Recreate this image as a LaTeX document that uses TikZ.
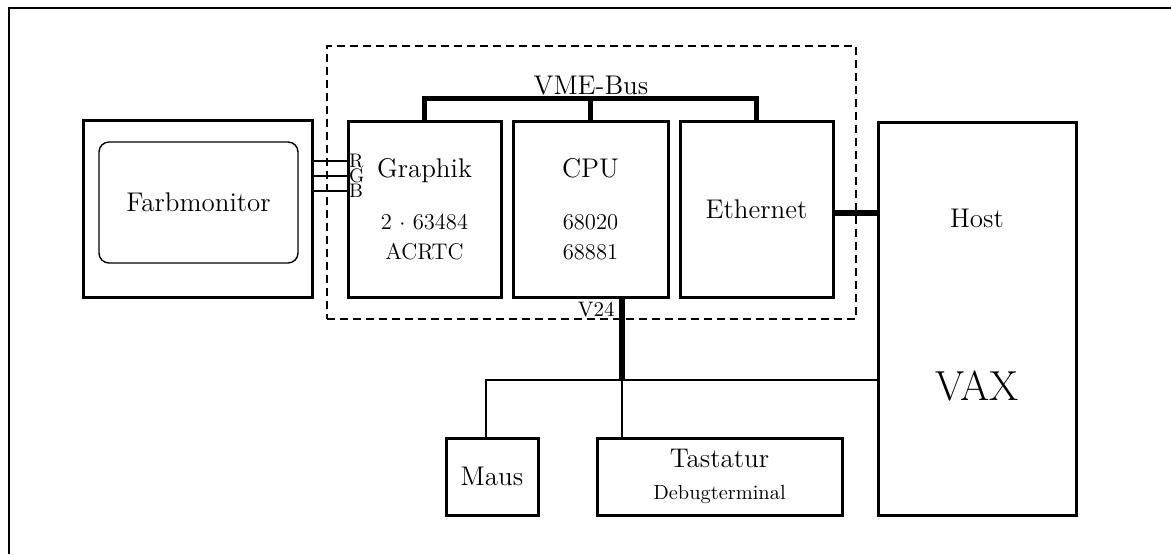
\documentclass[tikz,border=0pt]{standalone}
\usetikzlibrary{positioning}
\tikzset{
    hwbox/.style={draw, line width=1.5pt, align=center, inner sep=0pt, font=\fontsize{13.5}{15}\selectfont},
    screenbox/.style={draw, line width=0.7pt, rounded corners=5pt, align=center, font=\fontsize{13.5}{15}\selectfont},
    vmeframe/.style={draw, dashed, dash pattern=on 4pt off 2.5pt, line width=0.8pt},
    buslink/.style={line width=2.6pt},
    sigline/.style={line width=0.7pt},
    hwlabel/.style={inner sep=0.5pt, font=\fontsize{13.5}{15}\selectfont},
    rgblabel/.style={inner sep=0pt, font=\fontsize{9.8}{11}\selectfont},
    hwsmall/.style={inner sep=0.5pt, font=\fontsize{10.5}{12}\selectfont}
}
\newcommand{\subfont}{\fontsize{11.3}{11.5}\selectfont}

\begin{document}
\begin{tikzpicture}[x=0.5pt, y=-0.5pt]
    \useasboundingbox (0,0) rectangle (1171,554);
    \draw[line width=1pt] (9,554) -- (9,8) -- (1171,8);

    % Rechner im VME-Gehaeuse
    \node[vmeframe, minimum width=264.5pt, minimum height=136.5pt] (vme) at (591.5,182.5) {};
    \node[hwbox, minimum width=76.5pt, minimum height=88pt] (graphik) at (424.5,209)
        {Graphik\\[11pt]\subfont 2 $\cdot$ 63484\\\subfont ACRTC};
    \node[hwbox, minimum width=77.5pt, minimum height=88pt] (cpu) at (590.5,209)
        {CPU\\[11pt]\subfont 68020\\\subfont 68881};
    \node[hwbox, minimum width=76.5pt, minimum height=88pt] (ethernet) at (756.5,209) {Ethernet};
    \node[hwlabel] (vmelbl) at (591,86) {VME-Bus};

    % Peripherie
    \node[hwbox, minimum width=114.5pt, minimum height=88.5pt] (monitor) at (197.5,208.5) {};
    \node[screenbox, minimum width=99.5pt, minimum height=60.5pt] (screen) at (198.5,202.5) {Farbmonitor};
    \node[hwbox, minimum width=99pt, minimum height=196.5pt] (host) at (977,318.5) {};
    \node[hwlabel] (hostlbl) at (977,218) {Host};
    \node[hwlabel, font=\fontsize{21}{24}\selectfont] (vax) at (977,386) {VAX};
    \node[hwbox, minimum width=46pt, minimum height=38.5pt] (maus) at (492,476.5) {Maus};
    \node[hwbox, minimum width=122.5pt, minimum height=38.5pt] (tastatur) at (719.5,476.5)
        {Tastatur\\[1pt]\fontsize{10.2}{11.5}\selectfont Debugterminal};

    % Verbindungen
    \draw[buslink] (graphik.north) -- ++(0,-21) -| (ethernet.north);
    \draw[buslink] (cpu.north) -- ++(0,-21);
    \draw[buslink] (ethernet.east |- 0,213) -- (host.west |- 0,213);
    \foreach \y/\c in {161/R,176/G,191/B}
        \draw[sigline] (monitor.east |- 0,\y) -- (graphik.west |- 0,\y)
            node[rgblabel, anchor=west, xshift=1pt] {\c};

    \coordinate (v24) at (622,380);
    \coordinate (mausjoint) at (486,380);
    \draw[buslink] (cpu.south -| v24) -- (v24);
    \node[hwsmall, below left=1pt and 3pt of cpu.south -| v24] (v24lbl) {V24};
    \draw[sigline] (maus.north -| mausjoint) -- (mausjoint) -- (mausjoint -| host.west);
    \draw[sigline] (tastatur.north -| v24) -- (v24);
\end{tikzpicture}
\end{document}
